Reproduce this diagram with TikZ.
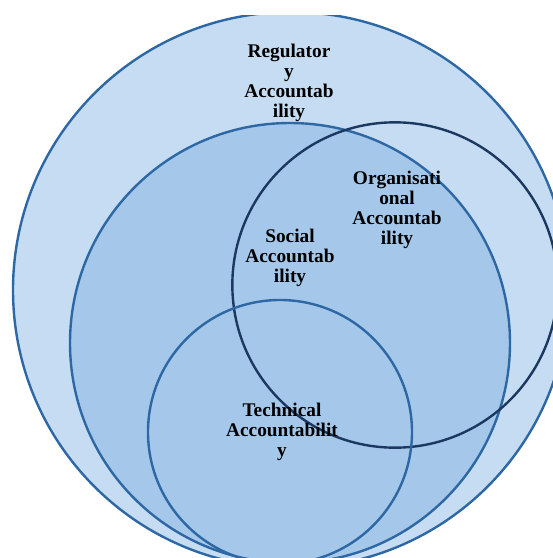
\documentclass[tikz,border=0pt]{standalone}
\usepackage{fontspec}
\setmainfont{Liberation Serif}
\usepackage{xcolor}
\usepackage{tikz}

\definecolor{outerfill}{RGB}{197,220,242}
\definecolor{innerfill}{RGB}{165,200,234}
\definecolor{ringblue}{RGB}{46,104,164}
\definecolor{ringnavy}{RGB}{28,56,96}

\begin{document}
\begin{tikzpicture}[
  x=0.75pt, y=-0.75pt,
  ring/.style ={draw=ringblue, line width=1.8pt},
  label/.style={align=center, inner sep=0pt, font=\bfseries\fontsize{14.5}{15}\selectfont}
  ]

  \useasboundingbox (0,0) rectangle (553,558);
  \begin{scope}
    \clip (0,15) rectangle (553,558);
    \path[ring, fill=outerfill] (291,290) circle[radius=208.5pt];
    \path[ring, fill=innerfill] (290,343) circle[radius=165pt];
    \path[ring, draw=ringnavy]  (395,285) circle[radius=122pt];
    \path[ring]                 (280,432) circle[radius=99pt];
  \end{scope}

  \node[label] (reg)  at (289,83)  {Regulator\\y\\Accountab\\ility};
  \node[label] (org)  at (397,210) {Organisati\\onal\\Accountab\\ility};
  \node[label] (soc)  at (290,258) {Social\\Accountab\\ility};
  \node[label] (tech) at (282,432) {Technical\\Accountabilit\\y};

\end{tikzpicture}
\end{document}
